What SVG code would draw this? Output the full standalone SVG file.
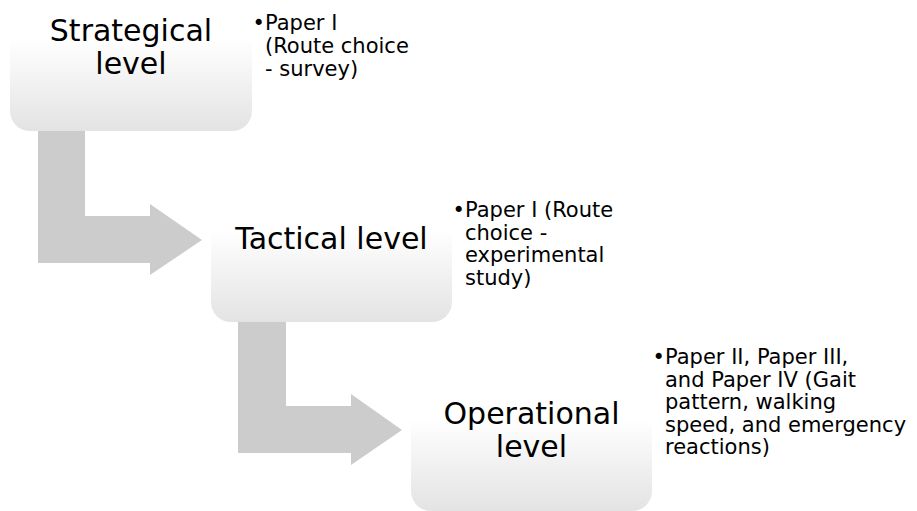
<svg xmlns="http://www.w3.org/2000/svg" width="917" height="511" viewBox="0 0 917 511">
<defs>
<linearGradient id="boxg" x1="0" y1="0" x2="0" y2="1">
<stop offset="0" stop-color="#ffffff"/>
<stop offset="0.3" stop-color="#ffffff"/>
<stop offset="1" stop-color="#e3e3e3"/>
</linearGradient>
<style>
.box{fill:url(#boxg);}
.arrow{fill:#cccccc;}
.lbl{font-family:"DejaVu Sans","Verdana",sans-serif;font-size:30px;fill:#000;text-anchor:middle;}
.note{font-family:"DejaVu Sans","Verdana",sans-serif;font-size:21px;fill:#000;}
.bul{font-family:"DejaVu Sans","Verdana",sans-serif;font-size:21px;fill:#000;}
</style>
</defs>
<rect width="917" height="511" fill="#ffffff"/>
<g id="connectors">
<polygon class="arrow" points="38,120 85,120 85,216 150,216 150,204 202,240 150,275 150,263 38,263"/>
<polygon class="arrow" points="238,310 286,310 286,406 351,406 351,394 402,430 351,465 351,453 238,453"/>
</g>
<g id="strategical">
<rect class="box" x="10" y="-1" width="242" height="132" rx="20" ry="20"/>
<text class="lbl" x="131" y="41">Strategical</text>
<text class="lbl" x="131" y="74">level</text>
</g>
<g id="strategical-note">
<text class="bul" x="252.5" y="29.5">•</text>
<text class="note" x="265" y="29.5">Paper I</text>
<text class="note" x="265" y="52.5">(Route choice</text>
<text class="note" x="265" y="75.5">- survey)</text>
</g>
<g id="tactical">
<rect class="box" x="211" y="190" width="241" height="132" rx="20" ry="20"/>
<text class="lbl" x="331.5" y="249">Tactical level</text>
</g>
<g id="tactical-note">
<text class="bul" x="452.5" y="217">•</text>
<text class="note" x="465" y="217">Paper I (Route</text>
<text class="note" x="465" y="239.5">choice -</text>
<text class="note" x="465" y="262">experimental</text>
<text class="note" x="465" y="284.5">study)</text>
</g>
<g id="operational">
<rect class="box" x="411" y="379" width="241" height="132" rx="20" ry="20"/>
<text class="lbl" x="531.5" y="424">Operational</text>
<text class="lbl" x="531.5" y="457">level</text>
</g>
<g id="operational-note">
<text class="bul" x="652.5" y="364">•</text>
<text class="note" x="665" y="364">Paper II, Paper III,</text>
<text class="note" x="665" y="386.5">and Paper IV (Gait</text>
<text class="note" x="665" y="409">pattern, walking</text>
<text class="note" x="665" y="431.5">speed, and emergency</text>
<text class="note" x="665" y="454">reactions)</text>
</g>
</svg>
